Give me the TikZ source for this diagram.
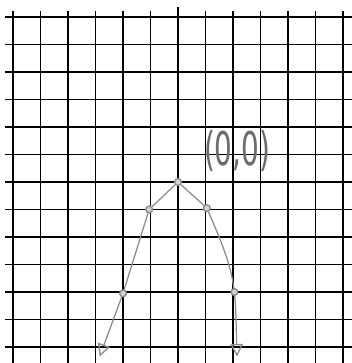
\documentclass[tikz,border=0pt]{standalone}
\usepackage{fontspec}
\setmainfont{DejaVu Sans}
\usetikzlibrary{arrows.meta}
\tikzset{
  gridline/.style={black, line width=1.5pt},
  axisline/.style={black, line width=3pt},
  curve/.style={gray!90, line width=1.3pt},
  ptmark/.style={circle, draw=gray!90, line width=1.4pt, fill=gray!35, inner sep=0pt, minimum size=7pt},
  tip/.style={-{Triangle[open, length=13pt, width=13pt, line width=1.4pt]}},
}
\begin{document}
\begin{tikzpicture}[x=1cm,y=1cm]
\useasboundingbox (-6.473,-6.582) rectangle (6.327,6.618);
% grid
\foreach \i in {-6,...,6} {
  \draw[gridline] (-6.3,\i) -- (6.33,\i);
}
\foreach \i in {-6,...,6} {
  \draw[gridline] (\i,6.2) -- (\i,-6.6);
}
% axes
\draw[axisline] (-6.3,0) -- (6.33,0);
\draw[axisline] (0,6.35) -- (0,-6.6);
% points
\node[ptmark] (v) at (0,0) {};
\node[ptmark] (l1) at (-1.05,-1.0) {};
\node[ptmark] (l2) at (-2.0,-4.05) {};
\node[ptmark] (r1) at (1.05,-0.95) {};
\node[ptmark] (r2) at (2.05,-4.0) {};
\coordinate (le) at (-2.85,-6.35);
\coordinate (re) at (2.15,-6.35);
% parabola branches
\draw[curve] (v) -- (l1);
\draw[curve] (l1) -- (l2);
\draw[curve, tip] (l2) -- (le);
\draw[curve] (v) -- (r1);
\draw[curve] (r1) .. controls (1.5,-2.0) and (1.9,-2.9) .. (r2);
\draw[curve, tip] (r2) .. controls (2.12,-4.8) and (2.12,-5.6) .. (re);
% label
\node[gray!85!black, font=\fontsize{48}{48}\selectfont, xscale=0.6, transform shape] (lab) at (2.15,1.12) {(0,0)};
\end{tikzpicture}
\end{document}
